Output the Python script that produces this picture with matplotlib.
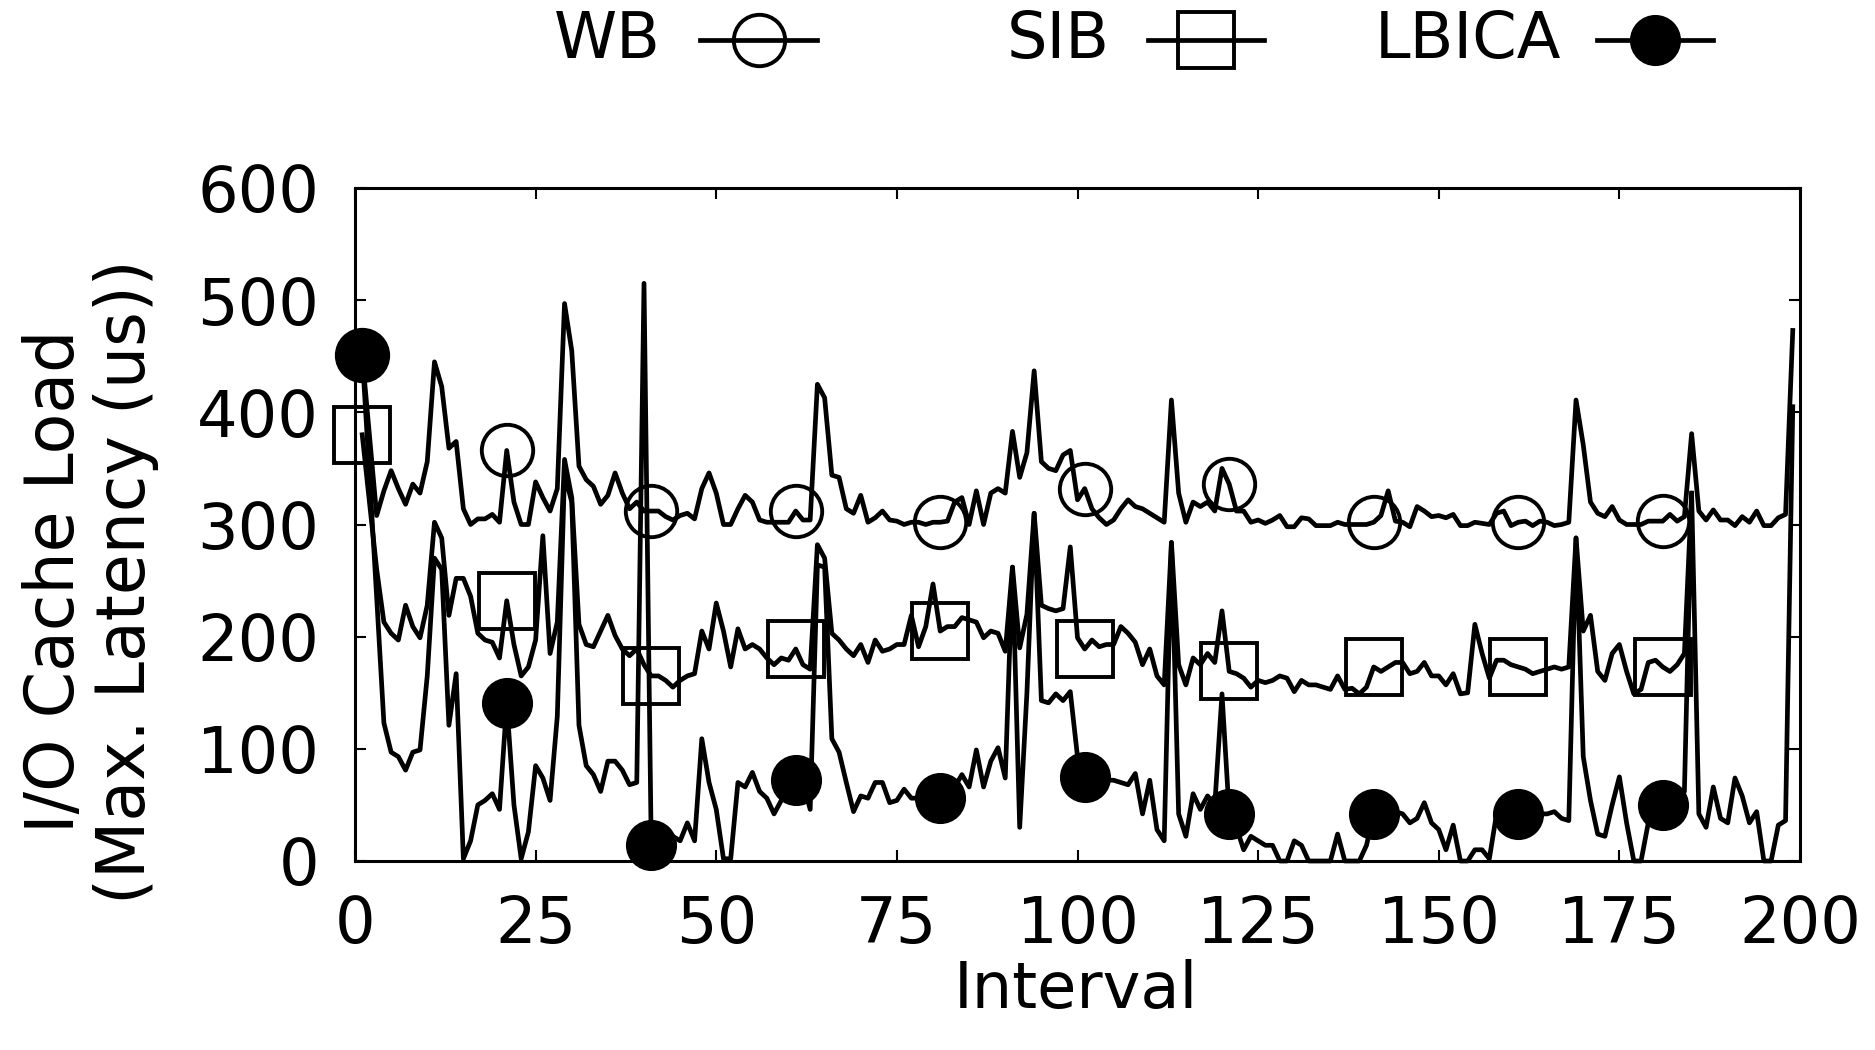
import matplotlib
matplotlib.use('Agg')
import matplotlib.pyplot as plt
import matplotlib.lines as mlines
import numpy as np

plt.rcParams['font.family'] = ['DejaVu Sans']
plt.rcParams['font.size'] = 46

# 数据：每个区间的最大延迟 (us)
wb = [451, 380, 308, 330, 348, 332, 318, 336, 328, 356,
      445, 423, 368, 374, 314, 300, 305, 305, 309, 302,
      366, 320, 300, 300, 338, 324, 312, 332, 497, 455,
      352, 340, 334, 318, 326, 346, 328, 314, 320, 312,
      312, 312, 307, 304, 308, 310, 305, 332, 346, 328,
      300, 300, 314, 326, 320, 304, 302, 302, 302, 302,
      312, 304, 304, 425, 413, 344, 342, 314, 310, 326,
      302, 306, 312, 304, 303, 300, 302, 302, 300, 302,
      302, 303, 320, 324, 300, 330, 300, 328, 332, 328,
      383, 342, 364, 437, 356, 350, 348, 362, 366, 322,
      332, 314, 306, 300, 304, 314, 322, 316, 314, 310,
      306, 302, 411, 328, 302, 320, 316, 320, 312, 350,
      336, 312, 312, 302, 304, 301, 304, 308, 298, 298,
      306, 305, 299, 299, 299, 302, 300, 300, 300, 300,
      302, 308, 330, 303, 302, 298, 316, 312, 307, 308,
      306, 309, 299, 299, 302, 301, 300, 310, 312, 299,
      302, 303, 299, 303, 302, 299, 300, 302, 411, 371,
      320, 310, 307, 316, 304, 300, 300, 300, 303, 303,
      303, 309, 303, 307, 381, 312, 304, 313, 304, 304,
      299, 307, 302, 312, 299, 299, 306, 309, 473]

sib = [380, 320, 260, 213, 203, 197, 228, 209, 199, 228,
       302, 288, 219, 252, 252, 236, 203, 197, 195, 181,
       232, 193, 165, 173, 197, 290, 185, 213, 358, 324,
       211, 193, 191, 205, 219, 201, 189, 183, 189, 175,
       165, 165, 161, 155, 161, 165, 167, 205, 189, 230,
       205, 173, 207, 189, 193, 189, 181, 175, 181, 179,
       189, 175, 171, 282, 270, 203, 197, 189, 183, 193,
       177, 197, 187, 189, 193, 193, 219, 191, 209, 247,
       205, 209, 209, 217, 215, 213, 199, 205, 203, 187,
       262, 190, 220, 310, 228, 225, 223, 225, 280, 199,
       189, 197, 191, 193, 193, 209, 203, 195, 175, 189,
       165, 157, 284, 175, 157, 181, 175, 185, 177, 223,
       169, 167, 163, 155, 161, 159, 161, 165, 163, 151,
       161, 157, 157, 155, 153, 165, 153, 154, 149, 155,
       173, 169, 173, 177, 177, 167, 169, 177, 165, 165,
       157, 167, 149, 150, 211, 185, 163, 179, 179, 175,
       173, 171, 167, 169, 171, 173, 171, 173, 288, 205,
       219, 169, 161, 185, 193, 169, 149, 153, 177, 179,
       173, 169, 175, 185, 328]

lbica = [451, 345, 235, 123, 97, 93, 81, 97, 99, 165,
         270, 260, 121, 167, 2, 18, 50, 54, 60, 46,
         141, 50, 2, 26, 85, 74, 54, 129, 345, 320,
         121, 85, 77, 62, 89, 89, 81, 68, 70, 515,
         14, 14, 22, 22, 18, 34, 18, 109, 70, 46,
         2, 2, 70, 66, 79, 62, 56, 42, 54, 58,
         72, 70, 46, 264, 262, 109, 97, 70, 44, 58,
         56, 70, 70, 52, 54, 64, 56, 56, 60, 62,
         56, 58, 66, 77, 66, 99, 66, 89, 101, 74,
         262, 30, 150, 310, 143, 141, 149, 143, 151, 93,
         75, 72, 70, 72, 72, 70, 68, 78, 42, 72,
         28, 18, 284, 42, 22, 60, 46, 58, 50, 149,
         42, 30, 10, 22, 18, 14, 14, 0, 0, 18,
         14, 0, 0, 0, 0, 24, 0, 0, 0, 14,
         42, 42, 42, 44, 42, 34, 38, 52, 34, 28,
         10, 32, 0, 0, 10, 10, 2, 42, 42, 42,
         42, 42, 42, 42, 42, 44, 38, 36, 288, 93,
         54, 24, 22, 50, 75, 34, 0, 0, 34, 46,
         50, 50, 52, 62, 328, 42, 30, 66, 38, 34,
         74, 58, 34, 44, 0, 0, 32, 36, 405]

series = [
    ('WB', wb, dict(marker='o', markersize=37, markerfacecolor='none')),
    ('SIB', sib, dict(marker='s', markersize=40, markerfacecolor='none')),
    ('LBICA', lbica, dict(marker='o', markersize=34, markerfacecolor='black')),
]

fig = plt.figure(figsize=(18.75, 10.5), dpi=100)
ax = fig.add_axes([355 / 1875, 1 - 861 / 1050, 1445 / 1875, 673 / 1050])

for name, vals, style in series:
    x = np.arange(1, len(vals) + 1)
    ax.plot(x, vals, color='black', linewidth=3.4, markevery=20,
            markeredgewidth=2.8, markeredgecolor='black', clip_on=False,
            **style)

ax.set_xlim(0, 200)
ax.set_ylim(0, 600)
ax.set_xticks(np.arange(0, 201, 25))
ax.set_yticks(np.arange(0, 601, 100))
ax.tick_params(direction='in', length=8, width=1.5, top=True, right=True,
               labelsize=46)
ax.tick_params(axis='x', pad=24)
ax.tick_params(axis='y', pad=26)
for sp in ax.spines.values():
    sp.set_linewidth(2.2)

ax.set_xlabel('Interval', fontsize=46)
ax.xaxis.set_label_coords(0.499, -0.145)
ax.set_ylabel('I/O Cache Load\n(Max. Latency (us))', fontsize=48,
              linespacing=1.1)
ax.yaxis.label.set_verticalalignment('center')
ax.yaxis.set_label_coords(-0.183, 0.415)

# 图例（gnuplot 风格：文字在左，样本在右）
legend_y = 1 - 40 / 1050
legend_pos = [(661, 700, 817), (1110, 1148, 1264), (1561, 1597, 1713)]
for (name, vals, style), (tx, l0, l1) in zip(series, legend_pos):
    fig.text(tx / 1875, legend_y, name, ha='right', va='center', fontsize=46)
    xs = [l0 / 1875, (l0 + l1) / 2 / 1875, l1 / 1875]
    line = mlines.Line2D(xs, [legend_y] * 3, transform=fig.transFigure,
                         color='black', linewidth=3.4, markevery=[1],
                         markeredgewidth=2.8, markeredgecolor='black',
                         **style)
    fig.add_artist(line)

plt.savefig('out.png', dpi=100)
